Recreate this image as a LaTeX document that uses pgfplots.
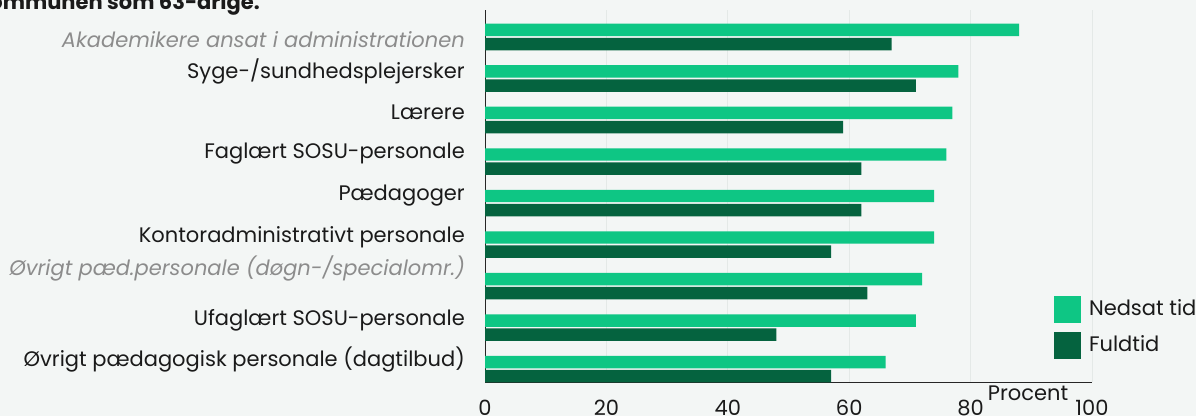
\documentclass[border=0pt]{standalone}
\usepackage{fontspec}
\setmainfont{Poppins}
\usepackage{pgfplots}
\pgfplotsset{compat=1.18}
\definecolor{bg}{HTML}{F3F6F5}
\definecolor{nedsat}{HTML}{0EC684}
\definecolor{fuld}{HTML}{05633F}
\definecolor{gridc}{HTML}{E4E9E7}
\definecolor{lbl}{HTML}{8C8C8C}
\definecolor{txt}{HTML}{1A1A1A}

% categories bottom-up: 0 = dagtilbud ... 8 = Akademikere
\pgfplotstableread{
pos nedsat fuld
8 88 67
7 78 71
6 77 59
5 76 62
4 74 62
3 74 57
2 72 63
1 71 48
0 66 57
}\datatab

\begin{document}
\fontsize{21bp}{24bp}\selectfont
\begin{tikzpicture}[x=1bp,y=1bp]
\useasboundingbox (0,0) rectangle (1196,416);
\fill[bg] (0,0) rectangle (1196,416);
\node[anchor=base east, inner sep=0pt, font=\bfseries, text=txt] at (260,406) {kommunen som 63-årige.};
\begin{axis}[
    at={(485bp,34bp)}, anchor=south west,
    width=607bp, height=372bp, scale only axis,
    xbar, bar width=0.30,
    xmin=0, xmax=100, ymin=-0.31, ymax=8.65,
    xtick={0,20,40,60,80,100},
    ytick={7.93,7.16,6.19,5.20,4.19,3.18,2.43,1.18,0.22},
    yticklabels={
      {\color{lbl}\itshape Akademikere ansat i administrationen},
      Syge-/sundhedsplejersker,
      Lærere,
      Faglært SOSU-personale,
      Pædagoger,
      Kontoradministrativt personale,
      {\color{lbl}\itshape Øvrigt pæd.personale (døgn-/specialomr.)},
      Ufaglært SOSU-personale,
      Øvrigt pædagogisk personale (dagtilbud)},
    major tick length=0pt,
    /pgf/number format/assume math mode=true,
    ticklabel style={text=txt},
    yticklabel style={anchor=east, inner sep=0pt, xshift=-20bp},
    xticklabel style={anchor=base, inner sep=0pt, yshift=-33bp},
    axis x line*=bottom, axis y line*=left,
    axis line style={-, black!85, line width=1bp},
    xmajorgrids, grid style={gridc, line width=1bp},
    legend style={at={(0.9374,0.231)}, anchor=north west, draw=none, fill=none,
      inner sep=0pt, outer sep=0pt, row sep=9bp, text=txt,
      /tikz/every odd column/.append style={column sep=6bp}},
    legend cell align=left,
    legend image code/.code={\fill[#1] (0bp,-13.5bp) rectangle (27bp,13.5bp);},
]
\addplot[fill=nedsat, draw=none, bar shift=0.17] table[x=nedsat, y=pos] {\datatab};
\addlegendentry{Nedsat tid}
\addplot[fill=fuld, draw=none, bar shift=-0.17] table[x=fuld, y=pos] {\datatab};
\addlegendentry{Fuldtid}
\end{axis}
\node[text=txt, inner sep=0pt, anchor=base] at (1028,16) {Procent};
\end{tikzpicture}
\end{document}
